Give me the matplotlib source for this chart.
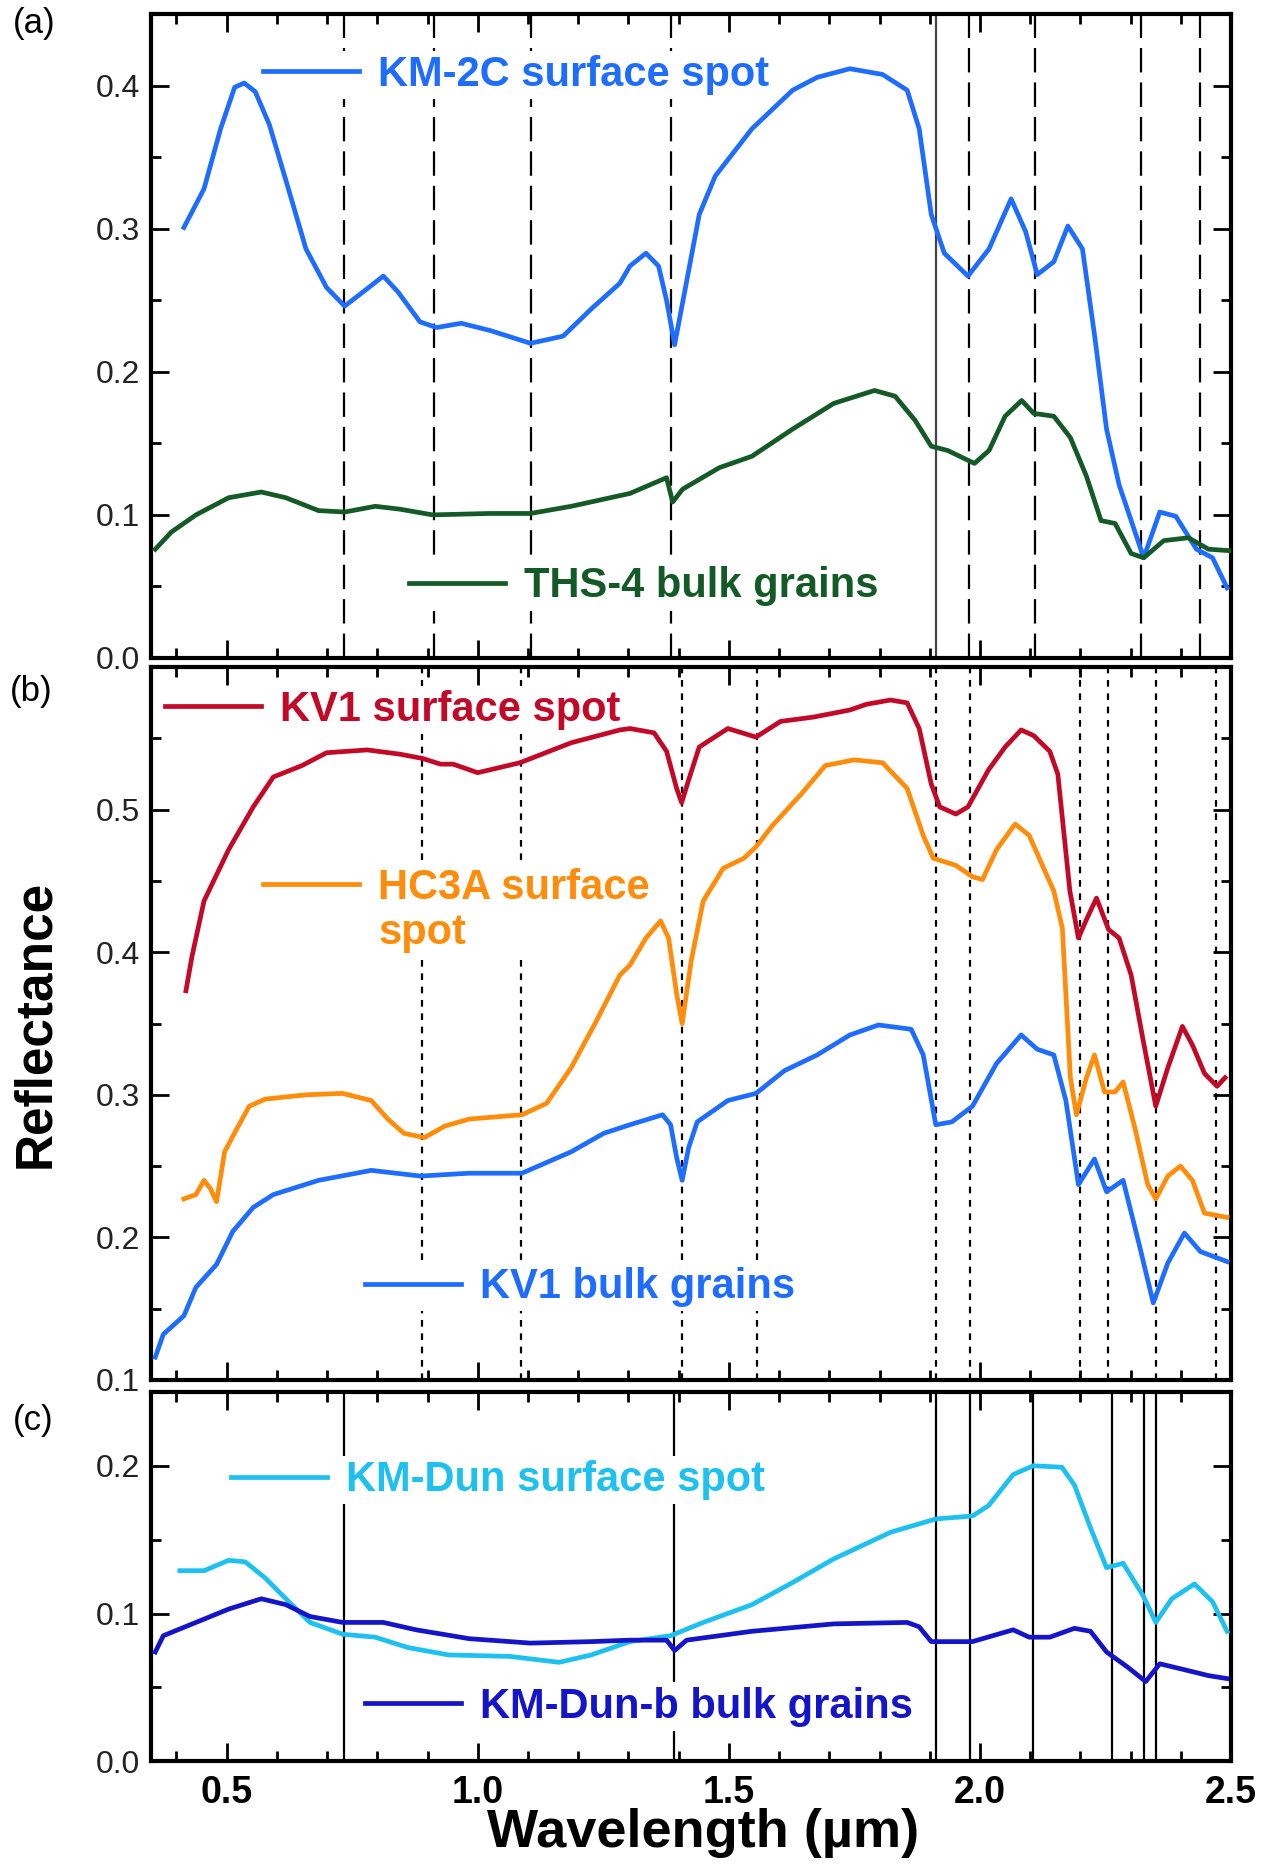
import numpy as np
import matplotlib.pyplot as plt
from matplotlib.lines import Line2D
from matplotlib.ticker import MultipleLocator, FixedLocator

plt.rcParams['font.family'] = ['Liberation Sans', 'DejaVu Sans']

# ---- panel (a) ----
km2c_x = [0.415, 0.455, 0.488, 0.516, 0.535, 0.557, 0.585, 0.618, 0.658, 0.699, 0.735, 0.772, 0.812,
          0.841, 0.885, 0.918, 0.967, 1.024, 1.105, 1.170, 1.226, 1.283, 1.303, 1.335, 1.360,
          1.376, 1.392, 1.412, 1.441, 1.473, 1.546, 1.627, 1.676, 1.741, 1.806, 1.855, 1.879,
          1.903, 1.929, 1.976, 2.018, 2.062, 2.091, 2.114, 2.147, 2.175, 2.204, 2.228, 2.252,
          2.277, 2.326, 2.358, 2.390, 2.431, 2.463, 2.492]
km2c_y = [0.301, 0.328, 0.370, 0.399, 0.402, 0.396, 0.373, 0.334, 0.286, 0.259, 0.246, 0.256, 0.267,
          0.256, 0.235, 0.231, 0.234, 0.229, 0.220, 0.225, 0.244, 0.262, 0.274, 0.283, 0.274,
          0.250, 0.219, 0.256, 0.310, 0.337, 0.370, 0.397, 0.406, 0.412, 0.408, 0.397, 0.370,
          0.310, 0.283, 0.267, 0.286, 0.321, 0.298, 0.268, 0.277, 0.302, 0.286, 0.226, 0.160,
          0.121, 0.070, 0.102, 0.099, 0.076, 0.070, 0.049]

ths4_x = [0.358, 0.390, 0.439, 0.504, 0.569, 0.618, 0.683, 0.735, 0.796, 0.845, 0.910, 1.024,
          1.105, 1.186, 1.303, 1.376, 1.388, 1.408, 1.481, 1.546, 1.627, 1.709, 1.790, 1.831,
          1.871, 1.903, 1.936, 1.989, 2.018, 2.050, 2.083, 2.107, 2.147, 2.180, 2.212, 2.241,
          2.269, 2.301, 2.326, 2.366, 2.415, 2.455, 2.496]
ths4_y = [0.076, 0.088, 0.100, 0.112, 0.116, 0.112, 0.103, 0.102, 0.106, 0.104, 0.100, 0.101,
          0.101, 0.106, 0.115, 0.126, 0.109, 0.118, 0.133, 0.141, 0.160, 0.178, 0.187, 0.183,
          0.166, 0.148, 0.145, 0.136, 0.145, 0.169, 0.180, 0.171, 0.169, 0.154, 0.127, 0.096,
          0.094, 0.073, 0.070, 0.082, 0.084, 0.076, 0.075]

# ---- panel (b) ----
kv1s_x = [0.419, 0.431, 0.455, 0.504, 0.553, 0.593, 0.650, 0.699, 0.780, 0.845, 0.890, 0.926,
          0.951, 1.000, 1.084, 1.186, 1.283, 1.303, 1.351, 1.376, 1.396, 1.406, 1.420, 1.441,
          1.498, 1.554, 1.603, 1.668, 1.741, 1.774, 1.822, 1.855, 1.879, 1.903, 1.920, 1.952,
          1.976, 2.017, 2.050, 2.082, 2.107, 2.139, 2.155, 2.179, 2.196, 2.212, 2.232, 2.256,
          2.277, 2.301, 2.325, 2.350, 2.374, 2.403, 2.423, 2.447, 2.472, 2.488]
kv1s_y = [0.373, 0.397, 0.436, 0.472, 0.502, 0.523, 0.531, 0.540, 0.542, 0.539, 0.536, 0.532,
          0.532, 0.526, 0.533, 0.547, 0.556, 0.557, 0.554, 0.541, 0.515, 0.505, 0.521, 0.544,
          0.557, 0.551, 0.562, 0.565, 0.570, 0.574, 0.577, 0.575, 0.557, 0.518, 0.502, 0.497,
          0.502, 0.528, 0.544, 0.556, 0.552, 0.541, 0.525, 0.443, 0.410, 0.423, 0.438, 0.416,
          0.410, 0.384, 0.338, 0.292, 0.319, 0.348, 0.335, 0.315, 0.306, 0.312]

hc3a_x = [0.415, 0.439, 0.455, 0.468, 0.480, 0.496, 0.520, 0.545, 0.577, 0.658, 0.731, 0.788,
          0.821, 0.853, 0.894, 0.934, 0.983, 1.088, 1.137, 1.186, 1.235, 1.283, 1.303, 1.335,
          1.364, 1.380, 1.396, 1.407, 1.425, 1.449, 1.489, 1.530, 1.554, 1.587, 1.644, 1.692,
          1.749, 1.806, 1.855, 1.887, 1.907, 1.952, 1.985, 2.005, 2.033, 2.070, 2.098, 2.123,
          2.147, 2.164, 2.180, 2.192, 2.212, 2.228, 2.248, 2.269, 2.285, 2.309, 2.334, 2.350,
          2.374, 2.399, 2.423, 2.447, 2.492]
hc3a_y = [0.227, 0.230, 0.240, 0.234, 0.225, 0.260, 0.276, 0.292, 0.297, 0.300, 0.301, 0.296,
          0.283, 0.273, 0.270, 0.278, 0.283, 0.286, 0.294, 0.319, 0.351, 0.384, 0.391, 0.410,
          0.422, 0.410, 0.371, 0.350, 0.394, 0.436, 0.459, 0.466, 0.474, 0.489, 0.511, 0.531,
          0.535, 0.533, 0.515, 0.482, 0.466, 0.461, 0.453, 0.451, 0.472, 0.490, 0.482, 0.462,
          0.443, 0.417, 0.312, 0.286, 0.312, 0.328, 0.302, 0.302, 0.309, 0.276, 0.237, 0.227,
          0.243, 0.250, 0.240, 0.217, 0.214]

kv1b_x = [0.358, 0.374, 0.415, 0.439, 0.480, 0.512, 0.553, 0.593, 0.683, 0.788, 0.886, 0.983,
          1.088, 1.186, 1.251, 1.303, 1.368, 1.384, 1.396, 1.407, 1.420, 1.437, 1.498, 1.554,
          1.611, 1.676, 1.741, 1.798, 1.863, 1.887, 1.912, 1.944, 1.985, 2.033, 2.082, 2.114,
          2.147, 2.171, 2.196, 2.228, 2.252, 2.285, 2.317, 2.345, 2.374, 2.407, 2.439, 2.492]
kv1b_y = [0.116, 0.132, 0.145, 0.165, 0.181, 0.204, 0.221, 0.230, 0.240, 0.247, 0.243, 0.245,
          0.245, 0.260, 0.273, 0.279, 0.286, 0.279, 0.256, 0.240, 0.263, 0.281, 0.296, 0.301,
          0.317, 0.328, 0.342, 0.349, 0.346, 0.328, 0.279, 0.281, 0.292, 0.322, 0.342, 0.332,
          0.328, 0.296, 0.237, 0.255, 0.232, 0.240, 0.195, 0.154, 0.182, 0.203, 0.190, 0.183]

# ---- panel (c) ----
kmdun_x = [0.407, 0.455, 0.504, 0.537, 0.577, 0.618, 0.666, 0.731, 0.796, 0.861, 0.942, 1.064,
           1.162, 1.226, 1.303, 1.384, 1.449, 1.546, 1.627, 1.709, 1.822, 1.912, 1.985, 2.017,
           2.066, 2.106, 2.163, 2.188, 2.220, 2.252, 2.285, 2.325, 2.350, 2.382, 2.427, 2.463,
           2.492]
kmdun_y = [0.129, 0.129, 0.136, 0.135, 0.124, 0.110, 0.094, 0.086, 0.084, 0.077, 0.072, 0.071,
           0.067, 0.072, 0.081, 0.085, 0.094, 0.106, 0.121, 0.137, 0.155, 0.164, 0.166, 0.173,
           0.194, 0.200, 0.199, 0.187, 0.158, 0.131, 0.134, 0.112, 0.094, 0.110, 0.120, 0.108,
           0.088]

kmdunb_x = [0.358, 0.374, 0.439, 0.504, 0.569, 0.618, 0.666, 0.731, 0.812, 0.877, 0.983, 1.105,
            1.226, 1.303, 1.376, 1.392, 1.416, 1.546, 1.709, 1.855, 1.879, 1.903, 1.985, 2.066,
            2.098, 2.139, 2.188, 2.220, 2.252, 2.293, 2.330, 2.358, 2.407, 2.455, 2.492]
kmdunb_y = [0.074, 0.085, 0.094, 0.103, 0.110, 0.106, 0.098, 0.094, 0.094, 0.089, 0.083, 0.080,
            0.081, 0.082, 0.082, 0.075, 0.082, 0.088, 0.093, 0.094, 0.091, 0.081, 0.081, 0.089,
            0.084, 0.084, 0.090, 0.088, 0.074, 0.064, 0.054, 0.066, 0.062, 0.058, 0.056]

# band positions (um)
a_dashed = [0.734, 0.912, 1.107, 1.384, 1.979, 2.110, 2.320, 2.438]
a_solid = [1.913]
b_dotted = [0.890, 1.086, 1.406, 1.557, 1.913, 1.980, 2.200, 2.254, 2.350, 2.469]
c_solid = [0.734, 1.390, 1.913, 1.980, 2.106, 2.262, 2.327, 2.351]

a_yticks = [0.0, 0.1, 0.2, 0.3, 0.4]
b_yticks = [0.1, 0.2, 0.3, 0.4, 0.5]
c_yticks = [0.0, 0.1, 0.2]

blue = '#1f6dff'
green = '#145a26'
red = '#c20a28'
orange = '#ff8c0a'
cyan = '#1ec0f0'
navy = '#1414c8'

fig = plt.figure(figsize=(12.68, 18.69), dpi=100)
ax_a = fig.add_axes([0.1193, 0.648, 0.8516, 0.3443])
ax_b = fig.add_axes([0.1193, 0.2617, 0.8516, 0.3813])
ax_c = fig.add_axes([0.1193, 0.0576, 0.8516, 0.1977])


def style(ax, ylo, yhi, yticks, show_x):
    ax.set_xlim(0.35, 2.5)
    ax.set_ylim(ylo, yhi)
    ax.xaxis.set_major_locator(MultipleLocator(0.5))
    ax.xaxis.set_minor_locator(MultipleLocator(0.1))
    ax.yaxis.set_major_locator(FixedLocator(yticks))
    ax.yaxis.set_minor_locator(MultipleLocator(0.05))
    ax.tick_params(which='both', direction='in', top=True, right=True, width=2)
    ax.tick_params(which='major', length=13)
    ax.tick_params(which='minor', length=7)
    ax.tick_params(axis='y', labelsize=23, pad=8, labelcolor='#222222')
    ax.tick_params(axis='x', labelsize=27, pad=10)
    for s in ax.spines.values():
        s.set_linewidth(3)
    if show_x:
        for t in ax.get_xticklabels():
            t.set_fontweight('bold')
    else:
        ax.set_xticklabels([])
    ax.yaxis.set_major_formatter(plt.FormatStrFormatter('%.1f'))


def label(ax, handles, texts, x, y):
    leg = ax.legend(handles, texts, loc='center left', bbox_to_anchor=(x, y),
                    frameon=True, framealpha=1, facecolor='white', edgecolor='none',
                    fancybox=False, borderpad=0.1, borderaxespad=0, handlelength=2.3,
                    handletextpad=0.45, labelspacing=0.12, labelcolor='linecolor',
                    prop={'weight': 'bold', 'size': 30})
    # sit above the band lines but below the spectra
    leg.set_zorder(2)
    ax.add_artist(leg)


lw = 3.4

# panel (a)
for xv in a_dashed:
    ax_a.axvline(xv, color='black', lw=1.6, ls=(0, (11, 4.5)), zorder=1)
for xv in a_solid:
    ax_a.axvline(xv, color='#444444', lw=1.6, zorder=1)
la1, = ax_a.plot(km2c_x, km2c_y, color=blue, lw=lw, solid_joinstyle='round', zorder=3)
la2, = ax_a.plot(ths4_x, ths4_y, color=green, lw=lw, solid_joinstyle='round', zorder=3)
style(ax_a, 0.0, 0.45, a_yticks, False)
label(ax_a, [la1], ['KM-2C surface spot'], 0.100, 0.906)
label(ax_a, [la2], ['THS-4 bulk grains'], 0.235, 0.111)

# panel (b)
for xv in b_dotted:
    ax_b.axvline(xv, color='black', lw=1.6, ls=(0, (3, 3)), zorder=1)
lb1, = ax_b.plot(kv1s_x, kv1s_y, color=red, lw=lw, solid_joinstyle='round', zorder=3)
lb2, = ax_b.plot(hc3a_x, hc3a_y, color=orange, lw=lw, solid_joinstyle='round', zorder=3)
lb3, = ax_b.plot(kv1b_x, kv1b_y, color=blue, lw=lw, solid_joinstyle='round', zorder=3)
style(ax_b, 0.1, 0.6, b_yticks, False)
label(ax_b, [lb1], ['KV1 surface spot'], 0.009, 0.940)
spot = Line2D([], [], color=orange, ls='none')
label(ax_b, [lb2, spot], ['HC3A surface', 'spot'], 0.100, 0.659)
label(ax_b, [lb3], ['KV1 bulk grains'], 0.194, 0.130)
ax_b.set_ylabel('Reflectance', fontsize=37, fontweight='bold')
ax_b.yaxis.set_label_coords(-0.084, 0.5)

# panel (c)
for xv in c_solid:
    ax_c.axvline(xv, color='black', lw=1.6, zorder=1)
lc1, = ax_c.plot(kmdun_x, kmdun_y, color=cyan, lw=lw, solid_joinstyle='round', zorder=3)
lc2, = ax_c.plot(kmdunb_x, kmdunb_y, color=navy, lw=lw, solid_joinstyle='round', zorder=3)
style(ax_c, 0.0, 0.25, c_yticks, True)
label(ax_c, [lc1], ['KM-Dun surface spot'], 0.070, 0.761)
label(ax_c, [lc2], ['KM-Dun-b bulk grains'], 0.194, 0.148)
ax_c.set_xlabel('Wavelength (\u00b5m)', fontsize=39, fontweight='bold')
ax_c.xaxis.set_label_coords(0.511, -0.125)

fig.text(0.010, 0.9875, '(a)', fontsize=25, va='center')
fig.text(0.008, 0.630, '(b)', fontsize=25, va='center')
fig.text(0.010, 0.240, '(c)', fontsize=25, va='center')

fig.savefig('out.png', dpi=100, facecolor='white')
